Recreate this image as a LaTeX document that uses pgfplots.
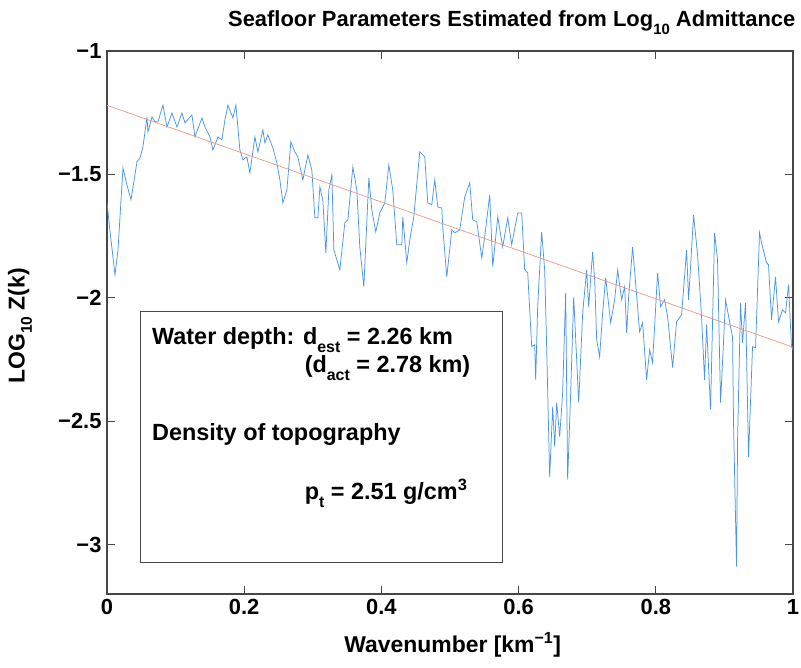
\documentclass[border=0pt]{standalone}
\usepackage{fontspec}
\setmainfont{Liberation Sans}
\usepackage{pgfplots}
\pgfplotsset{compat=1.18}

\definecolor{adm}{RGB}{75,150,228}
\definecolor{fitline}{RGB}{238,150,125}
\definecolor{frame}{RGB}{70,70,70}

% MATLAB-like low subscripts
\newcommand{\lsub}[1]{\raisebox{-0.32em}{\fontsize{0.68em}{0.7em}\selectfont #1}}

\begin{document}
\begin{tikzpicture}[font=\bfseries\fontsize{22}{26}\selectfont]
\begin{axis}[
  name=ax,
  width=686bp, height=543bp, scale only axis,
  xmin=0, xmax=1, ymin=-3.2, ymax=-1,
  xtick={0,0.2,0.4,0.6,0.8,1},
  xticklabels={0,0.2,0.4,0.6,0.8,1},
  ytick={-3,-2.5,-2,-1.5,-1},
  yticklabels={−3,−2.5,−2,−1.5,−1},
  tick align=inside,
  major tick length=8bp,
  axis line style={draw=frame, line width=1.1bp},
  every tick/.style={draw=frame, line width=0.8bp},
  xticklabel style={yshift=-2bp},
  yticklabel style={xshift=-2bp},
]
% log10 admittance
\addplot[adm, line width=0.75bp] coordinates {
(0,-1.615) (0.0058,-1.765) (0.0117,-1.907) (0.0160,-1.806) (0.0233,-1.474)
(0.0291,-1.543) (0.0350,-1.603) (0.0437,-1.449) (0.0481,-1.433) (0.0524,-1.389)
(0.0583,-1.267) (0.0597,-1.328) (0.0656,-1.267) (0.0699,-1.287) (0.0743,-1.287)
(0.0816,-1.219) (0.0874,-1.308) (0.0947,-1.251) (0.1020,-1.308) (0.1093,-1.251)
(0.1136,-1.291) (0.1238,-1.259) (0.1282,-1.348) (0.1384,-1.271) (0.1428,-1.308)
(0.1500,-1.348) (0.1544,-1.401) (0.1617,-1.348) (0.1675,-1.360) (0.1719,-1.279)
(0.1763,-1.219) (0.1835,-1.271) (0.1879,-1.219) (0.1937,-1.401) (0.1981,-1.441)
(0.2039,-1.429) (0.2083,-1.494) (0.2156,-1.348) (0.2200,-1.409) (0.2272,-1.320)
(0.2302,-1.372) (0.2345,-1.340) (0.2418,-1.393) (0.2476,-1.453) (0.2520,-1.522)
(0.2564,-1.615) (0.2622,-1.563) (0.2680,-1.368) (0.2739,-1.409) (0.2782,-1.429)
(0.2855,-1.522) (0.2928,-1.421) (0.2986,-1.482) (0.3030,-1.676) (0.3074,-1.676)
(0.3103,-1.551) (0.3146,-1.603) (0.3190,-1.818) (0.3234,-1.563) (0.3278,-1.502)
(0.3307,-1.806) (0.3394,-1.887) (0.3467,-1.696) (0.3511,-1.684) (0.3584,-1.470)
(0.3642,-1.563) (0.3685,-1.794) (0.3744,-1.955) (0.3817,-1.514) (0.3860,-1.644)
(0.3918,-1.733) (0.3977,-1.656) (0.4050,-1.615) (0.4108,-1.462) (0.4166,-1.563)
(0.4224,-1.785) (0.4297,-1.785) (0.4312,-1.672) (0.4370,-1.858) (0.4414,-1.765)
(0.4472,-1.672) (0.4559,-1.409) (0.4632,-1.429) (0.4676,-1.615) (0.4734,-1.623)
(0.4778,-1.522) (0.4822,-1.632) (0.4880,-1.636) (0.4894,-1.713) (0.4953,-1.915)
(0.5026,-1.725) (0.5069,-1.737) (0.5142,-1.725) (0.5215,-1.591) (0.5288,-1.534)
(0.5331,-1.684) (0.5390,-1.692) (0.5463,-1.838) (0.5506,-1.753) (0.5579,-1.583)
(0.5623,-1.874) (0.5696,-1.672) (0.5768,-1.794) (0.5841,-1.676) (0.5899,-1.785)
(0.5987,-1.656) (0.6045,-1.656) (0.6089,-1.887) (0.6133,-1.899) (0.6191,-2.198)
(0.6235,-2.190) (0.6249,-2.332) (0.6278,-2.036) (0.6336,-1.733) (0.6380,-1.887)
(0.6409,-2.198) (0.6453,-2.725) (0.6497,-2.441) (0.6526,-2.603) (0.6555,-2.425)
(0.6599,-2.563) (0.6642,-2.385) (0.6686,-1.980) (0.6715,-2.737) (0.6759,-2.385)
(0.6803,-1.996) (0.6876,-2.425) (0.6934,-2.061) (0.6992,-1.887) (0.7021,-2.036)
(0.7079,-1.814) (0.7109,-1.927) (0.7138,-2.170) (0.7181,-2.239) (0.7225,-2.061)
(0.7269,-1.919) (0.7342,-2.101) (0.7400,-2.008) (0.7444,-1.887) (0.7502,-2.008)
(0.7546,-1.955) (0.7575,-2.142) (0.7604,-1.996) (0.7662,-1.794) (0.7720,-1.988)
(0.7764,-2.138) (0.7808,-2.101) (0.7866,-2.332) (0.7910,-2.211) (0.7953,-2.263)
(0.8026,-1.899) (0.8070,-2.036) (0.8128,-2.008) (0.8172,-2.077) (0.8245,-2.283)
(0.8303,-2.097) (0.8376,-2.069) (0.8449,-1.806) (0.8478,-2.008) (0.8551,-1.664)
(0.8609,-1.826) (0.8667,-2.077) (0.8711,-2.332) (0.8740,-2.109) (0.8798,-2.453)
(0.8857,-1.737) (0.8900,-1.846) (0.8944,-2.425) (0.9017,-2.008) (0.9075,-2.097)
(0.9119,-2.158) (0.9133,-2.506) (0.9177,-3.089) (0.9192,-2.575) (0.9235,-2.020)
(0.9264,-2.182) (0.9308,-2.020) (0.9352,-2.644) (0.9410,-2.198) (0.9454,-2.202)
(0.9512,-1.737) (0.9556,-1.794) (0.9614,-1.858) (0.9643,-1.866) (0.9687,-2.089)
(0.9745,-1.915) (0.9789,-2.097) (0.9847,-2.049) (0.9891,-2.061) (0.9935,-1.947)
(0.9978,-2.198) (1.0,-2.211)
};
% fitted line
\addplot[fitline, line width=0.7bp] coordinates {(0,-1.22) (1,-2.2)};

\draw[frame, line width=0.8bp] (axis cs:0.048,-2.057) rectangle (axis cs:0.577,-3.073);

\coordinate (SW) at (rel axis cs:0,0);
\coordinate (NE) at (rel axis cs:1,1);
\coordinate (T) at (rel axis cs:0.59,1);
\coordinate (XL) at (rel axis cs:0.504,0);
\coordinate (YL) at (rel axis cs:0,0.494);
\coordinate (B1) at (axis cs:0.0656,-2.19);
\coordinate (B2) at (axis cs:0.288,-2.304);
\coordinate (B3) at (axis cs:0.0656,-2.579);
\coordinate (B4) at (axis cs:0.288,-2.818);
\end{axis}

\begin{scope}[font=\bfseries\fontsize{23.5}{28}\selectfont]
\node[anchor=base west, inner sep=0pt] at (B1) {Water depth: d\lsub{est} = 2.26 km};
\node[anchor=base west, inner sep=0pt] at (B2) {(d\lsub{act} = 2.78 km)};
\node[anchor=base west, inner sep=0pt] at (B3) {Density of topography};
\node[anchor=base west, inner sep=0pt] at (B4) {p\lsub{t} = 2.51 g/cm\textsuperscript{3}};
\end{scope}

\node[anchor=base, inner sep=0pt] at ([yshift=24bp]T) {Seafloor Parameters Estimated from Log\lsub{10} Admittance};
\node[anchor=base, inner sep=0pt, font=\bfseries\fontsize{23}{27}\selectfont] at ([yshift=-58bp]XL) {Wavenumber [km\textsuperscript{−1}]};
\node[anchor=center, inner sep=0pt, rotate=90, font=\bfseries\fontsize{23}{27}\selectfont] at ([xshift=-87bp]YL) {LOG\lsub{10} Z(k)};

\pgfresetboundingbox
\useasboundingbox ([shift={(-107bp,-74bp)}]SW) rectangle ([shift={(8bp,51bp)}]NE);
\end{tikzpicture}
\end{document}
